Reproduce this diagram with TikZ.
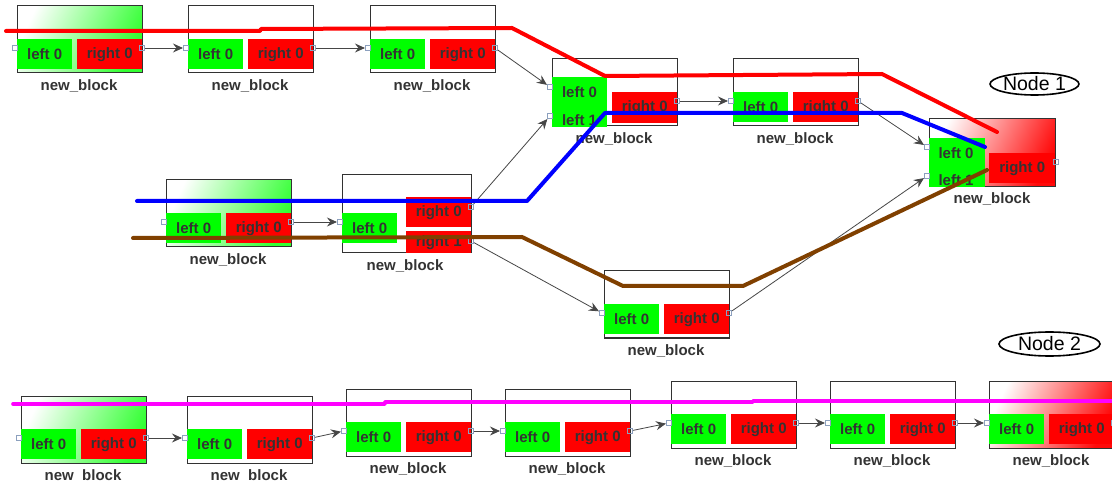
\documentclass[tikz,border=0pt]{standalone}
\usepackage{fontspec}
\setmainfont{Liberation Sans}
\usetikzlibrary{shapes.geometric,arrows.meta}

\definecolor{boxgreen}{RGB}{0,255,0}
\definecolor{boxred}{RGB}{255,0,0}
\definecolor{shgreen}{RGB}{50,255,50}
\definecolor{shred}{RGB}{255,10,10}
\definecolor{ink}{RGB}{51,51,51}
\definecolor{framegray}{RGB}{50,50,50}
\definecolor{wiregray}{RGB}{70,70,70}
\definecolor{portblue}{RGB}{140,160,190}
\definecolor{trackbrown}{RGB}{128,64,0}
\definecolor{trackred}{RGB}{255,0,0}
\definecolor{trackblue}{RGB}{0,0,255}
\definecolor{trackpink}{RGB}{255,0,255}

\tikzset{
  x=1pt, y=-1pt,
  blockframe/.style={draw=framegray, line width=1pt},
  greenshade/.style={left color=white, right color=shgreen, shading angle=65},
  redshade/.style={left color=white, right color=shred, shading angle=65},
  plainfill/.style={fill=white},
  boxfont/.style={font=\bfseries\fontsize{15}{17}\selectfont, text=ink},
  lbox/.style={boxfont, fill=boxgreen, anchor=north west, minimum width=55pt,
    minimum height=30pt, inner sep=0pt},
  rbox/.style={lbox, fill=boxred, minimum width=65pt},
  btext/.style={boxfont, inner sep=0pt},
  blabel/.style={boxfont, inner sep=0pt},
  port/.style={draw=portblue, line width=0.6pt, minimum size=5.5pt, inner sep=0pt},
  wire/.style={draw=wiregray, line width=0.8pt,
    -{Stealth[length=10pt,width=9pt,inset=3.5pt]}},
  track/.style={line width=4pt, line cap=round, line join=round},
  tag/.style={draw=black, line width=1.6pt, ellipse, inner sep=0pt,
    font=\fontsize{19.5}{21}\selectfont, text=black},
}

% a block with one input and one output: name, x, y, frame fill
\newcommand\stdblk[4]{%
  \path[blockframe,#4] (#2,#3) rectangle ++(125,67);
  \node[lbox] (#1-l) at (#2,{#3+33}) {left 0};
  \node[rbox] (#1-r) at ({#2+60},{#3+33}) {right 0};
  \node[blabel] (#1-n) at ({#2+62},{#3+80}) {new\_block};
  \node[port] (#1-in) at ({#2-2},{#3+42}) {};
  \node[port] (#1-out) at ({#2+125},{#3+42}) {};
}

\begin{document}
\begin{tikzpicture}
\useasboundingbox[fill=white] (0,0) rectangle (1112,481);

% ---- upper chain
\stdblk{a1}{17}{6}{greenshade}
\stdblk{a2}{188}{6}{plainfill}
\stdblk{a3}{370}{6}{plainfill}

% block with two inputs
\path[blockframe,plainfill] (552,59) rectangle ++(125,67);
\node[lbox, minimum height=50pt] (b1-l) at (552,77) {};
\node[btext] (b1-t0) at (579.5,92) {left 0};
\node[btext] (b1-t1) at (579.5,120) {left 1};
\node[rbox, minimum height=31pt] (b1-r) at (612,92) {right 0};
\node[blabel] (b1-n) at (614,139) {new\_block};
\node[port] (b1-in0) at (550,87) {};
\node[port] (b1-in1) at (550,116) {};
\node[port] (b1-out) at (677,101) {};

\stdblk{b2}{733}{59}{plainfill}

% merging block
\path[blockframe,redshade] (929,119) rectangle ++(126,68);
\node[lbox, minimum width=56pt, minimum height=49pt] (c-l) at (929,138) {};
\node[btext] (c-t0) at (956,153) {left 0};
\node[btext] (c-t1) at (956,180) {left 1};
\node[rbox, minimum width=66pt] (c-r) at (989,153) {right 0};
\node[blabel] (c-n) at (992,199) {new\_block};
\node[port] (c-in0) at (927,147) {};
\node[port] (c-in1) at (927,176) {};
\node[port] (c-out) at (1056,162) {};

% ---- middle chain
\stdblk{d1}{166}{180}{greenshade}

% block with two outputs
\path[blockframe,plainfill] (342,175) rectangle (471,253);
\node[lbox] (d2-l) at (342,213) {left 0};
\node[rbox] (d2-r0) at (406,197) {right 0};
\node[rbox, minimum height=22pt] (d2-r1) at (406,231) {\raisebox{-3pt}{right 1}};
\node[blabel] (d2-n) at (405,266) {new\_block};
\node[port] (d2-in) at (340,222) {};
\node[port] (d2-out0) at (471,207) {};
\node[port] (d2-out1) at (471,241) {};

\stdblk{e}{604}{271}{plainfill}

% ---- lower chain
\stdblk{f1}{21}{396}{greenshade}
\stdblk{f2}{187}{396}{plainfill}
\stdblk{f3}{346}{389}{plainfill}
\stdblk{f4}{505}{389}{plainfill}
\stdblk{f5}{671}{381}{plainfill}
\stdblk{f6}{830}{381}{plainfill}
\stdblk{f7}{989}{381}{redshade}

% ---- connections
\draw[wire] (a1-out) -- (a2-in);
\draw[wire] (a2-out) -- (a3-in);
\draw[wire] (a3-out) -- (b1-in0);
\draw[wire] (d2-out0) -- (b1-in1);
\draw[wire] (b1-out) -- (b2-in);
\draw[wire] (b2-out) -- (c-in0);
\draw[wire] (e-out) -- (c-in1);
\draw[wire] (d1-out) -- (d2-in);
\draw[wire] (d2-out1) -- (e-in);
\draw[wire] (f1-out) -- (f2-in);
\draw[wire] (f2-out) -- (f3-in);
\draw[wire] (f3-out) -- (f4-in);
\draw[wire] (f4-out) -- (f5-in);
\draw[wire] (f5-out) -- (f6-in);
\draw[wire] (f6-out) -- (f7-in);

% ---- node tags
\node[tag, minimum width=86pt, minimum height=22pt] (node1) at (1034.5,84) {Node 1};
\node[tag, minimum width=101pt, minimum height=24pt] (node2) at (1049.5,344) {Node 2};

% ---- highlighted paths
\draw[track, trackred] (6,31) -- (260,31) -- (261,29) -- (512,28) -- (605,76)
  -- (882,74) -- (997,132);
\draw[track, trackblue] (137,201) -- (527,201) -- (605,113) -- (902,113) -- (985,147);
\draw[track, trackbrown] (133,238) -- (522,237) -- (623,286) -- (743,286)
  -- (987,170);
\draw[track, trackpink, line width=3.6pt] (13,404) -- (385,404) -- (385,402)
  -- (753,402) -- (753,401) -- (1114,401);
\end{tikzpicture}
\end{document}
